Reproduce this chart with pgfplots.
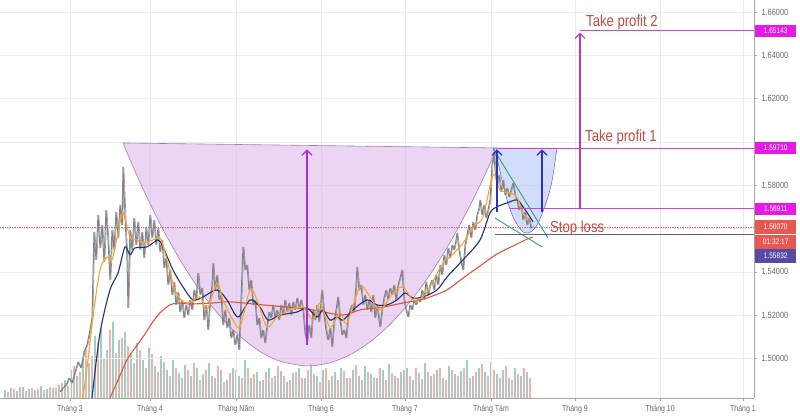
\documentclass[border=0pt]{standalone}
\usepackage{fontspec}
\setmainfont{Liberation Sans}[FakeStretch=0.82]
\usepackage{pgfplots}
\pgfplotsset{compat=1.18}
\usetikzlibrary{arrows.meta}
\definecolor{gridc}{RGB}{236,236,240}
\definecolor{txtc}{RGB}{105,105,105}
\definecolor{cupfill}{RGB}{218,172,232}
\definecolor{cupline}{RGB}{170,120,190}
\definecolor{bluefill}{RGB}{180,200,245}
\definecolor{magline}{RGB}{205,70,210}
\definecolor{arrowpur}{RGB}{165,45,215}
\definecolor{arrowblue}{RGB}{45,50,190}
\definecolor{wedge}{RGB}{45,160,140}
\definecolor{annot}{RGB}{195,75,65}
\definecolor{tagmag}{RGB}{230,25,230}
\definecolor{tagred}{RGB}{232,88,80}
\definecolor{tagblue}{RGB}{85,75,165}
\definecolor{maorange}{RGB}{245,168,40}
\definecolor{mablue}{RGB}{30,50,120}
\definecolor{mared}{RGB}{222,85,60}
\definecolor{pricet}{RGB}{95,150,140}
\definecolor{pricep}{RGB}{185,105,135}
\definecolor{curline}{RGB}{225,110,110}
\definecolor{slgray}{RGB}{100,100,100}
\definecolor{voltl}{RGB}{158,206,200}
\definecolor{volpk}{RGB}{242,178,172}
\begin{document}
\begin{tikzpicture}
\useasboundingbox (0,0) rectangle (800pt,419pt);
\fill[white] (0,0) rectangle (800pt,419pt);
% ---------- volume ----------
\begin{axis}[at={(0pt,21pt)},anchor=south west,scale only axis,width=754pt,height=398pt,
  xmin=0,xmax=754,ymin=0,ymax=398,hide axis]
\addplot[ycomb,draw=voltl,line width=2.3pt,no markers] coordinates {
(5,8)(11,10)(17,7)(23,11)(29,9)(35,8)(41,12)(47,9)(53,10)(59,13)(65,18)(71,28)(77,22)(83,40)(89,35)(95,62)(101,70)(107,48)(113,76)(119,58)(125,66)(131,45)(137,55)(143,38)(149,50)(155,32)(161,42)(167,28)(173,38)(179,25)(185,33)(191,22)(197,30)(203,24)(209,35)(215,20)(221,28)(227,18)(233,30)(239,22)(245,38)(251,20)(257,26)(263,18)(269,30)(275,22)(281,27)(287,16)(293,25)(299,30)(305,20)(311,34)(317,22)(323,28)(329,18)(335,26)(341,30)(347,20)(353,28)(359,22)(365,32)(371,24)(377,20)(383,28)(389,34)(395,22)(401,26)(407,30)(413,18)(419,25)(425,35)(431,22)(437,28)(443,20)(449,32)(455,24)(461,27)(467,38)(473,22)(479,30)(485,26)(491,36)(497,24)(503,28)(509,20)(515,30)(521,22)(527,26)};
\addplot[ycomb,draw=volpk,line width=2.3pt,no markers] coordinates {
(8,6)(14,9)(20,11)(26,7)(32,10)(38,9)(44,8)(50,11)(56,10)(62,15)(68,12)(74,32)(80,26)(86,48)(92,42)(98,55)(104,40)(110,68)(116,45)(122,60)(128,52)(134,35)(140,48)(146,30)(152,44)(158,26)(164,36)(170,22)(176,30)(182,20)(188,28)(194,35)(200,18)(206,28)(212,22)(218,32)(224,16)(230,25)(236,28)(242,20)(248,30)(254,24)(260,17)(266,26)(272,20)(278,32)(284,22)(290,18)(296,26)(302,20)(308,28)(314,24)(320,16)(326,30)(332,22)(338,18)(344,27)(350,20)(356,33)(362,18)(368,26)(374,21)(380,30)(386,18)(392,25)(398,20)(404,28)(410,22)(416,30)(422,19)(428,26)(434,24)(440,30)(446,18)(452,28)(458,22)(464,30)(470,20)(476,26)(482,34)(488,22)(494,28)(500,20)(506,32)(512,18)(518,24)(524,30)(530,20)};
\end{axis}
% ---------- price ----------
\pgfplotstableread{
x y
60 1.4845
63 1.4863
66 1.4877
69 1.4909
72 1.4886
75 1.4937
78 1.4983
81 1.4956
84 1.5030
87 1.5062
90 1.5131
92 1.5187
94 1.5584
96 1.5455
98 1.5662
100 1.5510
102 1.5616
104 1.5445
106 1.5685
108 1.5547
110 1.5362
112 1.5593
114 1.5501
116 1.5676
118 1.5556
120 1.5709
122 1.5616
123 1.5884
125 1.5662
127 1.5455
128 1.5233
130 1.5593
132 1.5501
134 1.5648
136 1.5524
138 1.5630
140 1.5501
142 1.5584
144 1.5464
146 1.5602
148 1.5524
150 1.5662
152 1.5556
154 1.5639
156 1.5524
158 1.5602
160 1.5491
162 1.5547
164 1.5418
166 1.5464
168 1.5339
170 1.5408
172 1.5293
174 1.5353
176 1.5247
178 1.5307
180 1.5214
182 1.5270
184 1.5187
186 1.5247
188 1.5200
190 1.5270
192 1.5224
194 1.5316
196 1.5270
198 1.5394
200 1.5293
202 1.5325
204 1.5177
206 1.5247
208 1.5131
210 1.5270
212 1.5339
213 1.5441
215 1.5316
217 1.5385
219 1.5270
221 1.5293
223 1.5154
225 1.5224
227 1.5140
229 1.5187
231 1.5094
233 1.5131
235 1.5062
237 1.5108
239 1.5039
241 1.5270
243 1.5515
245 1.5408
247 1.5431
249 1.5316
251 1.5362
253 1.5247
255 1.5270
257 1.5154
259 1.5187
261 1.5094
263 1.5131
265 1.5071
267 1.5154
269 1.5214
271 1.5187
273 1.5247
275 1.5187
277 1.5224
279 1.5177
281 1.5247
283 1.5200
285 1.5270
287 1.5214
289 1.5256
291 1.5200
293 1.5261
295 1.5224
297 1.5279
299 1.5233
301 1.5270
303 1.5224
305 1.5117
307 1.5076
309 1.5154
311 1.5094
313 1.5224
315 1.5177
317 1.5247
319 1.5168
321 1.5270
322 1.5316
324 1.5200
326 1.5131
328 1.5085
330 1.5140
332 1.5053
334 1.5168
336 1.5224
338 1.5284
340 1.5177
342 1.5108
344 1.5131
346 1.5094
348 1.5187
350 1.5224
352 1.5247
354 1.5214
356 1.5339
357 1.5422
359 1.5316
361 1.5339
363 1.5247
365 1.5293
367 1.5224
369 1.5270
371 1.5214
373 1.5293
375 1.5187
377 1.5247
379 1.5177
380 1.5145
382 1.5224
384 1.5279
386 1.5316
388 1.5270
390 1.5325
392 1.5293
394 1.5339
396 1.5270
398 1.5339
400 1.5371
402 1.5408
404 1.5270
406 1.5224
408 1.5191
410 1.5247
412 1.5224
414 1.5270
416 1.5247
418 1.5279
420 1.5260
422 1.5316
424 1.5270
426 1.5353
428 1.5293
430 1.5339
432 1.5362
434 1.5316
436 1.5385
438 1.5339
440 1.5431
442 1.5385
444 1.5478
446 1.5431
448 1.5510
450 1.5464
452 1.5524
454 1.5501
456 1.5547
457 1.5579
459 1.5501
461 1.5445
463 1.5408
465 1.5524
467 1.5570
469 1.5616
471 1.5556
473 1.5630
475 1.5593
477 1.5662
479 1.5695
480 1.5732
482 1.5662
484 1.5709
486 1.5648
488 1.5685
490 1.5732
492 1.5893
494 1.5953
495 1.5870
497 1.5801
499 1.5847
501 1.5769
503 1.5824
505 1.5755
507 1.5787
509 1.5745
511 1.5778
513 1.5810
515 1.5755
517 1.5732
519 1.5685
521 1.5709
523 1.5639
525 1.5676
527 1.5616
529 1.5648
531 1.5602
533 1.5607
}\pricetable
\begin{axis}[at={(0pt,21pt)},anchor=south west,scale only axis,width=754pt,height=398pt,
  xmin=0,xmax=754,ymin=1.4817,ymax=1.66554,clip=false,
  axis x line*=bottom, axis y line*=right,
  axis line style={draw=gray!70,line width=0.6pt},
  tick align=outside, major tick length=3pt,
  tick style={draw=gray!70},
  xtick={70,150,236,321,405,491,575,660,743},
  xticklabels={Tháng 3,Tháng 4,Tháng Năm,Tháng 6,Tháng 7,Tháng Tám,Tháng 9,Tháng 10,Tháng 1},
  ytick={1.50,1.52,1.54,1.56,1.58,1.60,1.62,1.64,1.66},
  yticklabels={1.50000,1.52000,1.54000,{},1.58000,{},1.62000,1.64000,1.66000},
  xticklabel style={font=\fontsize{8.5}{9}\selectfont,text=txtc,yshift=-1pt},
  yticklabel style={font=\fontsize{9}{10}\selectfont,text=txtc,xshift=1pt},
  grid=major, major grid style={draw=gridc,line width=0.5pt},
]
% big cup
\addplot[smooth,fill=cupfill,fill opacity=0.5,draw=cupline,line width=0.6pt] coordinates {
(123,1.5995)(140,1.5813)(160,1.5622)(180,1.5455)(200,1.5313)(220,1.5195)(240,1.5102)(260,1.5032)(280,1.4987)(307,1.4965)(330,1.4980)(350,1.5017)(370,1.5076)(390,1.5157)(410,1.5261)(430,1.5387)(450,1.5535)(470,1.5706)(485,1.5849)(497,1.5972)} -- cycle;
% small cup
\addplot[smooth,fill=bluefill,fill opacity=0.6,draw=cupline!70!blue,line width=0.5pt] coordinates {
(493,1.5971)(498,1.5903)(503,1.5801)(508,1.5718)(513,1.5653)(518,1.5612)(523,1.5584)(527,1.5579)(532,1.5588)(537,1.5616)(542,1.5667)(547,1.5732)(552,1.5819)(557,1.5971)} -- cycle;
% current price dotted line
\addplot[curline,densely dotted,line width=0.7pt] coordinates {(0,1.5607)(754,1.5607)};
% price (two tones to mimic mixed candles)
\addplot[pricet,line width=1.0pt,line join=bevel] table[x=x,y=y] {\pricetable};
\addplot[pricep,line width=0.6pt,line join=bevel,xshift=0.9pt,opacity=0.85] table[x=x,y=y] {\pricetable};
% MA slow (red)
\addplot[mared,line width=1.1pt,smooth] coordinates {
(110,1.4817)(118,1.4900)(127,1.4993)(135,1.5048)(143,1.5099)(152,1.5163)(160,1.5210)(170,1.5247)(180,1.5256)(190,1.5251)(213,1.5256)(230,1.5261)(263,1.5247)(297,1.5233)(313,1.5224)(343,1.5200)(360,1.5224)(383,1.5237)(403,1.5256)(420,1.5270)(430,1.5284)(447,1.5316)(463,1.5371)(480,1.5427)(497,1.5482)(513,1.5519)(527,1.5551)(533,1.5560)};
% MA mid (blue)
\addplot[mablue,line width=1.1pt,smooth] coordinates {
(92,1.4817)(100,1.5117)(110,1.5316)(118,1.5394)(125,1.5515)(130,1.5478)(135,1.5510)(147,1.5515)(158,1.5547)(163,1.5515)(173,1.5408)(183,1.5330)(193,1.5270)(203,1.5284)(217,1.5316)(227,1.5270)(238,1.5191)(250,1.5270)(260,1.5237)(268,1.5177)(280,1.5200)(297,1.5214)(307,1.5233)(317,1.5191)(323,1.5224)(330,1.5177)(337,1.5191)(343,1.5177)(353,1.5224)(367,1.5270)(377,1.5247)(387,1.5247)(397,1.5270)(405,1.5302)(413,1.5279)(423,1.5284)(437,1.5316)(447,1.5376)(463,1.5455)(480,1.5547)(490,1.5672)(497,1.5700)(507,1.5718)(517,1.5732)(523,1.5700)(530,1.5653)(533,1.5630)};
% MA fast (orange)
\addplot[maorange,line width=1.1pt,smooth] coordinates {
(83,1.4817)(88,1.4993)(93,1.5191)(100,1.5408)(107,1.5468)(112,1.5455)(118,1.5579)(123,1.5672)(130,1.5561)(137,1.5547)(143,1.5533)(153,1.5547)(160,1.5556)(167,1.5455)(175,1.5316)(183,1.5261)(190,1.5261)(200,1.5284)(207,1.5224)(217,1.5348)(223,1.5270)(233,1.5177)(240,1.5145)(250,1.5316)(257,1.5270)(267,1.5145)(277,1.5191)(290,1.5224)(303,1.5237)(313,1.5177)(320,1.5256)(330,1.5145)(340,1.5210)(347,1.5163)(360,1.5330)(370,1.5284)(380,1.5224)(393,1.5302)(403,1.5330)(413,1.5270)(423,1.5284)(430,1.5330)(443,1.5441)(450,1.5468)(463,1.5533)(473,1.5607)(483,1.5653)(493,1.5847)(500,1.5778)(510,1.5764)(517,1.5745)(523,1.5672)(530,1.5639)};
% wedge lines
\addplot[wedge,line width=0.9pt] coordinates {(493,1.5971)(548,1.5556)};
\addplot[wedge,line width=0.9pt] coordinates {(495,1.5648)(542,1.5515)};
% stop loss level
\addplot[slgray,line width=0.7pt] coordinates {(495,1.5575)(754,1.5575)};
% horizontal target levels
\addplot[magline,line width=0.8pt] coordinates {(580,1.65143)(754,1.65143)};
\addplot[magline,line width=0.8pt] coordinates {(497,1.5971)(754,1.5971)};
\addplot[magline,line width=0.8pt] coordinates {(510,1.56911)(754,1.56911)};
% arrows
\addplot[arrowpur,line width=1.2pt,-{Straight Barb[length=5pt,width=10pt]}] coordinates {(307,1.5062)(307,1.5965)};
\addplot[magline!80!violet,line width=1.2pt,-{Straight Barb[length=5pt,width=10pt]}] coordinates {(580,1.56911)(580,1.6505)};
\addplot[arrowblue,line width=1.2pt,-{Straight Barb[length=5pt,width=10pt]}] coordinates {(497,1.5676)(497,1.5965)};
\addplot[arrowblue,line width=1.2pt,-{Straight Barb[length=5pt,width=10pt]}] coordinates {(542,1.5676)(542,1.5965)};
% annotations
\node[anchor=west,text=annot,font=\fontsize{16}{17}\selectfont,inner sep=0pt] at (axis cs:586,1.6554) {Take profit 2};
\node[anchor=west,text=annot,font=\fontsize{16}{17}\selectfont,inner sep=0pt] at (axis cs:585,1.6023) {Take profit 1};
\node[anchor=west,text=annot,font=\fontsize{16}{17}\selectfont,inner sep=0pt] at (axis cs:550,1.5602) {Stop loss};
% price tags
\tikzset{tag/.style={anchor=west,text=white,font=\fontsize{8}{9}\selectfont,minimum width=41pt,minimum height=12pt,inner sep=1pt}}
\node[tag,fill=tagmag] at (axis cs:755,1.65143) {1.65143};
\node[tag,fill=tagmag] at (axis cs:755,1.5971) {1.59710};
\node[tag,fill=tagmag] at (axis cs:755,1.56911) {1.56911};
\node[tag,fill=tagred,minimum height=14pt] at (axis cs:755,1.5607) {1.56070};
\node[tag,fill=tagred,minimum height=14pt] at (axis cs:755,1.5538) {01:32:17};
\node[tag,fill=tagblue,minimum height=14pt] at (axis cs:755,1.5472) {1.55832};
\end{axis}
\end{tikzpicture}
\end{document}
